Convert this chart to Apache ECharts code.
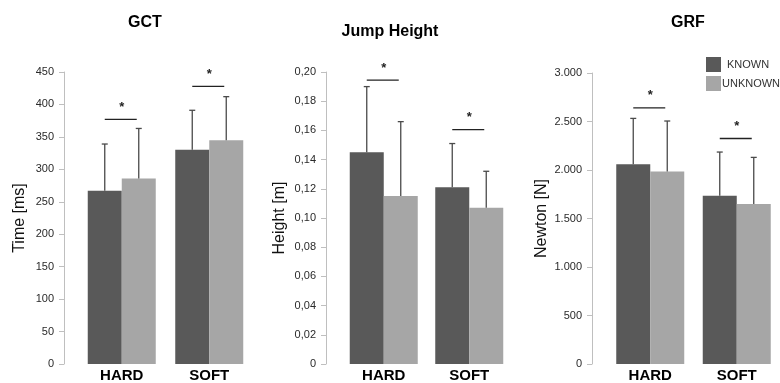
<!DOCTYPE html>
<html>
<head>
<meta charset="utf-8">
<script src="https://cdn.jsdelivr.net/npm/echarts@6/dist/echarts.min.js"></script>
<style>html,body{margin:0;padding:0;background:#fff}#c{width:780px;height:383px}</style>
</head>
<body>
<div id="c"></div>
<script>
const categories = ['HARD', 'SOFT'];
const seriesNames = ['KNOWN', 'UNKNOWN'];

// GCT (ms)
const gctKnown = [267, 330];
const gctUnknown = [286, 345];
const gctKnownSD = [72, 61];
const gctUnknownSD = [77, 67];
const gctSig = [377, 428];

// Jump Height (m)
const jhKnown = [0.145, 0.121];
const jhUnknown = [0.115, 0.107];
const jhKnownSD = [0.045, 0.030];
const jhUnknownSD = [0.051, 0.025];
const jhSig = [0.1945, 0.1605];

// GRF (N)
const grfKnown = [2060, 1735];
const grfUnknown = [1985, 1650];
const grfKnownSD = [472, 450];
const grfUnknownSD = [520, 480];
const grfSig = [2640, 2325];

const titles = ['GCT', 'Jump Height', 'GRF'];
const yNames = ['Time [ms]', 'Height [m]', 'Newton [N]'];
const yMax = [450, 0.2, 3000];
const yInterval = [50, 0.02, 500];

const FONT = "'Liberation Sans', Arial, sans-serif";
const DARK = '#595959', LIGHT = '#a6a6a6', ERR = '#4a4a4a';
const BW = 34;

const panels = [
  {known: gctKnown, unknown: gctUnknown, ksd: gctKnownSD, usd: gctUnknownSD, sig: gctSig},
  {known: jhKnown, unknown: jhUnknown, ksd: jhKnownSD, usd: jhUnknownSD, sig: jhSig},
  {known: grfKnown, unknown: grfUnknown, ksd: grfKnownSD, usd: grfUnknownSD, sig: grfSig}
];

const grids = [
  {left: 78, top: 72, width: 175, height: 293},
  {left: 341, top: 72, width: 171, height: 293},
  {left: 607, top: 73, width: 173, height: 292}
];
const yOffsets = [14, 15, 15];
const yNameGaps = [36, 38, 42];

function fmt(i, v) {
  if (v === 0) return '0';
  if (i === 1) return v.toFixed(2).replace('.', ',');
  if (i === 2) return v >= 1000 ? Math.floor(v / 1000) + '.' + String(v % 1000).padStart(3, '0') : String(v);
  return String(v);
}

const xAxis = [], yAxis = [], series = [];
panels.forEach((p, i) => {
  xAxis.push({
    type: 'category', gridIndex: i, data: categories,
    axisLine: {show: false}, axisTick: {show: false},
    axisLabel: {fontFamily: FONT, fontWeight: 'bold', fontSize: 15, color: '#000', margin: 4}
  });
  yAxis.push({
    type: 'value', gridIndex: i, min: 0, max: yMax[i], interval: yInterval[i],
    offset: yOffsets[i],
    name: yNames[i], nameLocation: 'middle', nameRotate: 90, nameGap: yNameGaps[i],
    nameTextStyle: {fontFamily: FONT, fontSize: 16, color: '#111'},
    axisLine: {show: true, lineStyle: {color: '#bfbfbf', width: 1}},
    axisTick: {show: true, length: 5, lineStyle: {color: '#bfbfbf'}},
    splitLine: {show: false},
    axisLabel: {fontFamily: FONT, fontSize: 11, color: '#2a2a2a', margin: 10, formatter: v => fmt(i, v)}
  });
  series.push({
    name: 'KNOWN', type: 'bar', xAxisIndex: i, yAxisIndex: i, data: p.known,
    barWidth: BW, barGap: '0%', itemStyle: {color: DARK}
  });
  series.push({
    name: 'UNKNOWN', type: 'bar', xAxisIndex: i, yAxisIndex: i, data: p.unknown,
    barWidth: BW, barGap: '0%', itemStyle: {color: LIGHT}
  });
  const errData = [];
  categories.forEach((c, k) => {
    errData.push([k, p.known[k], p.ksd[k], -1]);
    errData.push([k, p.unknown[k], p.usd[k], 1]);
  });
  series.push({
    type: 'custom', xAxisIndex: i, yAxisIndex: i, data: errData, z: 5, silent: true,
    renderItem: function (params, api) {
      const k = api.value(0), m = api.value(1), sd = api.value(2), side = api.value(3);
      const b = api.coord([k, m]);
      const t = api.coord([k, m + sd]);
      const x = b[0] + side * BW / 2;
      const st = {stroke: ERR, lineWidth: 1.3};
      return {type: 'group', children: [
        {type: 'line', shape: {x1: x, y1: b[1], x2: x, y2: t[1]}, style: st},
        {type: 'line', shape: {x1: x - 3, y1: t[1], x2: x + 3, y2: t[1]}, style: st}
      ]};
    }
  });
  series.push({
    type: 'custom', xAxisIndex: i, yAxisIndex: i, z: 5, silent: true,
    data: p.sig.map((v, k) => [k, v]),
    renderItem: function (params, api) {
      const pt = api.coord([api.value(0), api.value(1)]);
      return {type: 'group', children: [
        {type: 'line', shape: {x1: pt[0] - BW / 2, y1: pt[1], x2: pt[0] + BW / 2 - 2, y2: pt[1]},
         style: {stroke: '#222', lineWidth: 1.3}},
        {type: 'text', x: pt[0], y: pt[1] - 12,
         style: {text: '*', fontFamily: FONT, fontSize: 13, fontWeight: 'bold', fill: '#222',
                 align: 'center', verticalAlign: 'middle'}}
      ]};
    }
  });
});

const chart = echarts.init(document.getElementById('c'), null, {renderer: 'canvas'});
chart.setOption({
  animation: false,
  backgroundColor: '#fff',
  title: [
    {text: titles[0], left: 140, top: 10, textAlign: 'center', textStyle: {fontFamily: FONT, fontSize: 16, fontWeight: 'bold', color: '#000'}},
    {text: titles[1], left: 385, top: 19, textAlign: 'center', textStyle: {fontFamily: FONT, fontSize: 16, fontWeight: 'bold', color: '#000'}},
    {text: titles[2], left: 683, top: 10, textAlign: 'center', textStyle: {fontFamily: FONT, fontSize: 16, fontWeight: 'bold', color: '#000'}}
  ],
  legend: {
    data: seriesNames, orient: 'vertical', left: 706, top: 57,
    icon: 'rect', itemWidth: 15, itemHeight: 15, itemGap: 4, padding: 0,
    formatter: name => name === 'KNOWN' ? '{a|' + name + '}' : '{b|' + name + '}',
    textStyle: {
      fontFamily: FONT, fontSize: 11, color: '#333',
      rich: {
        a: {fontFamily: FONT, fontSize: 11, color: '#333', padding: [0, 0, 0, 1]},
        b: {fontFamily: FONT, fontSize: 11, color: '#333', padding: [0, 0, 0, -4]}
      }
    }
  },
  grid: grids,
  xAxis: xAxis,
  yAxis: yAxis,
  series: series
});
</script>
</body>
</html>
